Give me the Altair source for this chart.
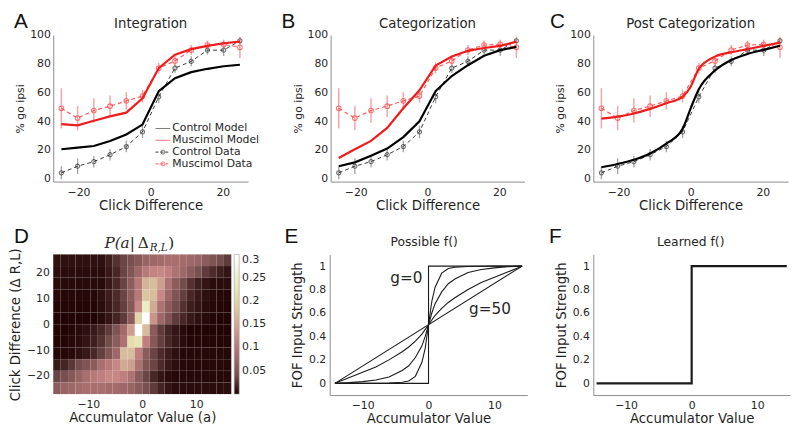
import altair as alt
import pandas as pd

FONT = "DejaVu Sans"
TXT = "#262626"
AXC = "#8c8c8c"

# ---------------- Panels A-C ----------------
click_x = [-24.75, -20.25, -15.75, -11.25, -6.75, -2.25, 2.25, 6.75, 11.25, 15.75, 20.25, 24.75]
control_data = [4.1, 8.7, 11.9, 16.7, 22.4, 32.6, 57.0, 77.0, 81.7, 89.5, 89.5, 96.0]
control_err = [4.5, 5.5, 4.0, 4.0, 4.0, 4.3, 4.5, 3.5, 3.5, 3.0, 4.0, 2.0]
muscimol_data = [49.0, 42.2, 47.5, 50.5, 54.2, 57.5, 77.0, 82.0, 89.6, 93.0, 93.5, 91.5]
muscimol_err = [14.0, 8.5, 8.5, 7.5, 6.0, 4.5, 3.7, 3.5, 3.5, 3.2, 3.3, 7.5]

integ_control_model = [20.5, 21.7, 22.8, 26.3, 30.8, 37.7, 61.0, 70.0, 74.2, 76.5, 78.3, 79.3]
integ_muscimol_model = [38.0, 37.2, 40.4, 43.4, 46.0, 56.0, 77.0, 86.3, 90.2, 92.5, 94.3, 95.4]

categ_control_model = [8.7, 11.4, 16.0, 21.0, 29.0, 40.0, 61.0, 71.5, 79.0, 85.6, 89.5, 91.8]
categ_muscimol_model = [14.4, 20.5, 26.3, 35.4, 49.0, 61.6, 78.8, 85.0, 89.0, 91.0, 92.5, 95.4]

post_x = [-24.75, -20.25, -15.75, -11.25, -6.75, -2.25, 0.0, 2.25, 6.75, 11.25, 15.75, 20.25, 24.75]
post_control_model = [8.0, 10.3, 13.2, 17.6, 24.4, 34.7, 49.0, 62.3, 75.3, 82.6, 86.8, 89.7, 92.5]
post_muscimol_model = [41.8, 43.2, 45.4, 48.6, 52.5, 57.0, 64.0, 76.5, 85.0, 88.0, 90.2, 92.5, 94.7]

legend_labels = ["Control Model", "Muscimol Model", "Control Data", "Muscimol Data"]

# ---------------- Panel D ----------------
acc_lo, acc_bin = -16.5, 1.375
click_top, click_bin = 27.0, 4.5
heat_rows = [  # top row (click diff +24.75) to bottom row (-24.75), 24 accumulator bins each
    [0.008]*7 + [0.015, 0.025, 0.035, 0.045, 0.055, 0.07, 0.075, 0.08, 0.085, 0.085, 0.08, 0.075, 0.07, 0.06, 0.05, 0.04, 0.03],
    [0.006]*7 + [0.012, 0.02, 0.035, 0.05, 0.075, 0.10, 0.115, 0.12, 0.11, 0.09, 0.075, 0.06, 0.045, 0.03, 0.022, 0.015, 0.01],
    [0.005]*7 + [0.012, 0.02, 0.035, 0.06, 0.10, 0.16, 0.17, 0.14, 0.09, 0.06, 0.04, 0.025, 0.015, 0.01, 0.006, 0.006, 0.006],
    [0.004]*6 + [0.008, 0.014, 0.022, 0.035, 0.06, 0.10, 0.18, 0.17, 0.12, 0.075, 0.05, 0.032, 0.02, 0.012, 0.008, 0.005, 0.004, 0.003],
    [0.003]*6 + [0.006, 0.012, 0.02, 0.032, 0.055, 0.12, 0.24, 0.15, 0.09, 0.06, 0.04, 0.025, 0.015, 0.01, 0.006, 0.004, 0.003, 0.002],
    [0.002]*6 + [0.005, 0.01, 0.018, 0.03, 0.06, 0.20, 0.30, 0.13, 0.075, 0.05, 0.03, 0.02, 0.012, 0.008, 0.005, 0.003, 0.002, 0.002],
    [0.002, 0.002, 0.003, 0.005, 0.008, 0.012, 0.02, 0.03, 0.05, 0.08, 0.14, 0.30, 0.17, 0.06, 0.03, 0.018, 0.01, 0.005] + [0.002]*6,
    [0.002, 0.003, 0.004, 0.006, 0.01, 0.015, 0.025, 0.04, 0.06, 0.09, 0.21, 0.22, 0.11, 0.055, 0.032, 0.02, 0.012, 0.006] + [0.003]*6,
    [0.003, 0.004, 0.005, 0.008, 0.012, 0.02, 0.032, 0.05, 0.075, 0.17, 0.17, 0.11, 0.06, 0.035, 0.022, 0.014, 0.008] + [0.004]*7,
    [0.012, 0.018, 0.028, 0.04, 0.05, 0.06, 0.085, 0.10, 0.12, 0.15, 0.14, 0.09, 0.05, 0.035, 0.022, 0.012, 0.007] + [0.004]*7,
    [0.035, 0.045, 0.055, 0.07, 0.085, 0.10, 0.11, 0.12, 0.12, 0.11, 0.09, 0.06, 0.035, 0.02, 0.01, 0.006] + [0.004]*8,
    [0.06, 0.07, 0.075, 0.08, 0.085, 0.085, 0.085, 0.08, 0.08, 0.075, 0.07, 0.06, 0.045, 0.03, 0.018, 0.01] + [0.006]*8,
]
cbar_ticks = [0.05, 0.1, 0.15, 0.2, 0.25, 0.3]
pink_stops = [0.0, 0.0375, 0.075, 0.1125, 0.15, 0.1875, 0.225, 0.2625, 0.3]
pink_colors = ["#1e0000", "#704a4a", "#9f6868", "#c38080", "#d0aa93", "#ddcca5", "#e9e9b4", "#f4f4dd", "#ffffff"]

# ---------------- Panel E / F ----------------
step_x = [-14.2, 0.0, 0.0, 14.2]
step_y = [0.0, 0.0, 1.0, 1.0]
curve_x = [-14.2, -12, -10, -8, -6, -4, -3, -2, -1, -0.5, 0, 0.5, 1, 2, 3, 4, 6, 8, 10, 12, 14.2]
curve_steep = [0, 0, 0, 0.001, 0.003, 0.01, 0.02, 0.06, 0.18, 0.30, 0.5, 0.70, 0.82, 0.94, 0.98, 0.99, 0.997, 0.999, 1, 1, 1]
curve_mid = [0, 0.006, 0.015, 0.028, 0.055, 0.11, 0.15, 0.22, 0.32, 0.40, 0.5, 0.60, 0.68, 0.78, 0.85, 0.89, 0.945, 0.972, 0.985, 0.994, 1]
curve_wide = [0, 0.05, 0.095, 0.14, 0.20, 0.27, 0.31, 0.36, 0.42, 0.46, 0.5, 0.54, 0.58, 0.64, 0.69, 0.73, 0.80, 0.86, 0.905, 0.95, 1]
linear_x = [-14.2, 14.2]
linear_y = [0.0, 1.0]
learned_x = [-14.5, 0.0, 0.0, 14.5]
learned_y = [0.0, 0.0, 1.0, 1.0]
strength_ticks = [0.0, 0.2, 0.4, 0.6, 0.8, 1.0]
STRENGTH_DOMAIN = [-0.1, 1.1]


def txt(s, x, y, size, align="center", baseline="alphabetic", font=FONT,
        style="normal", color=TXT, angle=0):
    return alt.Chart(pd.DataFrame({"t": [s]})).mark_text(
        align=align, baseline=baseline, font=font, fontSize=size,
        fontStyle=style, color=color, angle=angle
    ).encode(text="t:N", x=alt.value(x), y=alt.value(y))


def letter(s, x, y):
    return txt(s, x, y, 21, align="left", baseline="top", font="Liberation Sans", color="#111111")


TOP_H = 149
BOT_H = 143


def top_panel(title, let, let_x, width, mx, mc, mm, interp, with_legend=False):
    xs = alt.Scale(domain=[-27, 27], nice=False, zero=False)
    ys = alt.Scale(domain=[-2, 100], nice=False, zero=False)
    xax = alt.Axis(values=[-20, 0, 20], title="Click Difference", labelPadding=5,
                   titlePadding=1, labelFlush=False)
    yax = alt.Axis(values=[0, 20, 40, 60, 80, 100], title="% go ipsi", labelPadding=3,
                   titlePadding=4, titleFontSize=11)
    d = pd.DataFrame({
        "x": click_x,
        "c": control_data,
        "c_lo": [v - e for v, e in zip(control_data, control_err)],
        "c_hi": [v + e for v, e in zip(control_data, control_err)],
        "m": muscimol_data,
        "m_lo": [v - e for v, e in zip(muscimol_data, muscimol_err)],
        "m_hi": [v + e for v, e in zip(muscimol_data, muscimol_err)],
    })
    md = pd.DataFrame({"x": mx, "c": mc, "m": mm})
    X = alt.X("x:Q", scale=xs, axis=xax)

    def Y(f):
        return alt.Y(f, scale=ys, axis=yax)

    base = alt.Chart(d)
    layers = [
        base.mark_rule(color="#a3a3a3", strokeWidth=1.3).encode(x=X, y=Y("c_lo:Q"), y2="c_hi:Q"),
        base.mark_rule(color="#f5a5a5", strokeWidth=1.5).encode(x=X, y=Y("m_lo:Q"), y2="m_hi:Q"),
        base.mark_line(color="#3a3a3a", strokeWidth=1.0, strokeDash=[4, 3]).encode(x=X, y=Y("c:Q")),
        base.mark_line(color="#ff5c5c", strokeWidth=1.2, strokeDash=[4, 3]).encode(x=X, y=Y("m:Q")),
        base.mark_point(shape="circle", filled=False, color="#333333", size=18, strokeWidth=1.1).encode(x=X, y=Y("c:Q")),
        base.mark_point(shape="circle", filled=False, color="#ff4040", size=22, strokeWidth=1.1).encode(x=X, y=Y("m:Q")),
        alt.Chart(md).mark_line(color="#000000", strokeWidth=2.2, interpolate=interp).encode(x=X, y=Y("c:Q")),
        alt.Chart(md).mark_line(color="#ee1c1c", strokeWidth=2.2, interpolate=interp).encode(x=X, y=Y("m:Q")),
        txt(title, width / 2, -7, 13.5),
        letter(let, let_x, -24),
    ]
    if with_legend:
        styles = [
            ("#7a7a7a", 1.0, None, None),
            ("#f07878", 1.0, None, None),
            ("#333333", 1.0, [3, 2], "#333333"),
            ("#ff4a4a", 1.0, [3, 2], "#ff4040"),
        ]
        ys_leg = [95, 107, 119, 131]
        for lab, (col, sw, dash, mcol), yy in zip(legend_labels, styles, ys_leg):
            one = alt.Chart(pd.DataFrame({"t": [lab]}))
            kw = dict(color=col, strokeWidth=sw)
            if dash:
                kw["strokeDash"] = dash
            layers.append(one.mark_rule(**kw).encode(x=alt.value(104), x2=alt.value(119), y=alt.value(yy)))
            if mcol:
                layers.append(one.mark_point(shape="circle", filled=False, color=mcol, size=16,
                                             strokeWidth=1).encode(x=alt.value(111.5), y=alt.value(yy)))
            layers.append(txt(lab, 121, yy, 11, align="left", baseline="middle"))
    return alt.layer(*layers).properties(width=width, height=TOP_H)


def spacer(w, h):
    return alt.Chart(pd.DataFrame({"v": [0]})).mark_point(opacity=0).encode(
        x=alt.X("v:Q", axis=None), y=alt.Y("v:Q", axis=None)
    ).properties(width=w, height=h)


A = top_panel("Integration", "A", -40, 198, click_x, integ_control_model, integ_muscimol_model, "linear", True)
B = top_panel("Categorization", "B", -50, 197, click_x, categ_control_model, categ_muscimol_model, "linear")
C = top_panel("Post Categorization", "C", -44, 198, post_x, post_control_model, post_muscimol_model, "monotone")

# ---------------- D heatmap ----------------
rows = []
for r, row in enumerate(heat_rows):
    for c, v in enumerate(row):
        rows.append({
            "a_lo": acc_lo + acc_bin * c, "a_hi": acc_lo + acc_bin * (c + 1),
            "d_hi": click_top - click_bin * r, "d_lo": click_top - click_bin * (r + 1),
            "p": v,
        })
hd = pd.DataFrame(rows)
cscale = alt.Scale(domain=pink_stops, range=pink_colors, interpolate="rgb")
heat = alt.Chart(hd).mark_rect().encode(
    x=alt.X("a_lo:Q", scale=alt.Scale(domain=[-16.5, 16.5], nice=False, zero=False),
            axis=alt.Axis(values=[-10, 0, 10], title="Accumulator Value (a)", domain=False,
                          labelPadding=5, titlePadding=1, labelFlush=False)),
    x2="a_hi:Q",
    y=alt.Y("d_lo:Q", scale=alt.Scale(domain=[-27, 27], nice=False, zero=False),
            axis=alt.Axis(values=[-20, -10, 0, 10, 20], title="Click Difference (Δ R,L)",
                          domain=False, labelPadding=4, titlePadding=4)),
    y2="d_hi:Q",
    color=alt.Color("p:Q", scale=cscale, legend=alt.Legend(
        type="gradient", title=None, orient="right", offset=3, direction="vertical",
        gradientLength=142, gradientThickness=5, values=cbar_ticks, format=".2~f",
        labelFontSize=11, labelOverlap=False, labelFont=FONT, labelColor=TXT, labelOffset=3,
        gradientStrokeColor="#9a9a9a", gradientStrokeWidth=0.6)),
)
D = alt.layer(
    heat,
    txt("P(a|", 52, -7, 15.5, align="left", font="DejaVu Serif", style="italic"),
    txt("Δ", 86, -7, 15.5, align="left", font="DejaVu Serif"),
    txt("R,L", 98, -3, 10.5, align="left", font="DejaVu Serif", style="italic"),
    txt(")", 117, -7, 15.5, align="left", font="DejaVu Serif"),
    letter("D", -40, -29),
).properties(width=181, height=142)


def f_panel(title, let, let_x, width, title_x, line_df, sw, extra=None):
    xs = alt.Scale(domain=[-15, 15], nice=False, zero=False)
    ys = alt.Scale(domain=STRENGTH_DOMAIN, nice=False, zero=False)
    lines = alt.Chart(line_df).mark_line(color="#1a1a1a", strokeWidth=sw).encode(
        x=alt.X("x:Q", scale=xs, axis=alt.Axis(values=[-10, 0, 10], title="Accumulator Value",
                                                labelPadding=5, titlePadding=1, labelFlush=False)),
        y=alt.Y("y:Q", scale=ys, axis=alt.Axis(values=strength_ticks, format=".1~f",
                                                title="FOF Input Strength", labelPadding=4,
                                                titlePadding=4, labelOverlap=False)),
        detail="curve:N",
        order="idx:Q",
    )
    layers = [lines, txt(title, title_x, -9, 12.5), letter(let, let_x, -29)]
    if extra:
        layers += extra
    return alt.layer(*layers).properties(width=width, height=BOT_H)


def long_df(curves):
    recs = []
    for name, xs_, ys_ in curves:
        for i, (xv, yv) in enumerate(zip(xs_, ys_)):
            recs.append({"curve": name, "idx": i, "x": xv, "y": yv})
    return pd.DataFrame(recs)


e_df = long_df([
    ("g0", step_x, step_y),
    ("steep", curve_x, curve_steep),
    ("mid", curve_x, curve_mid),
    ("wide", curve_x, curve_wide),
    ("g50", linear_x, linear_y),
])
f_df = long_df([("learned", learned_x, learned_y)])

E = f_panel("Possible f()", "E", -46, 201, 96, e_df, 1.1,
            extra=[txt("g=0", 78, 29, 15.5), txt("g=50", 163, 61, 15.5)])
F = f_panel("Learned f()", "F", -45, 200, 99, f_df, 2.2)

row1 = alt.hconcat(A, spacer(84, TOP_H), B, spacer(70, TOP_H), C, spacing=0, bounds="flush")
row2 = alt.hconcat(D, spacer(100, BOT_H), E, spacer(67, BOT_H), F, spacing=0, bounds="flush"
                   ).resolve_scale(color="independent").resolve_legend(color="independent")

# nested flush rows report (almost) no height, so the row gap carries the top row's height
chart = alt.vconcat(row1, row2, spacing=TOP_H + 74, bounds="flush").resolve_scale(
    color="independent").resolve_legend(color="independent").properties(
    padding={"left": 0, "top": 0, "right": 0, "bottom": 0}
).configure_view(stroke=None).configure_axis(
    domainColor=AXC, domainWidth=1, ticks=False, grid=False,
    labelFont=FONT, labelFontSize=11, labelColor=TXT,
    titleFont=FONT, titleFontSize=13.5, titleColor="#1f1f1f", titleFontWeight="normal",
)

chart.save("out.html", embed_options={"renderer": "svg", "actions": False})
